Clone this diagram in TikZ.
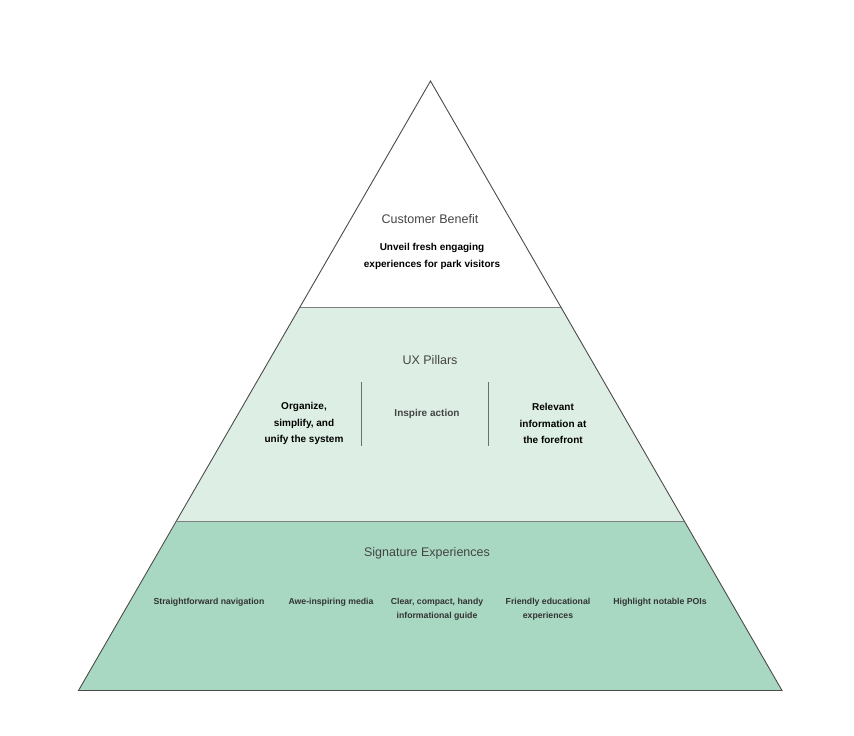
\documentclass[tikz,border=0pt]{standalone}
\usepackage{fontspec}
\setmainfont{Liberation Sans}
\definecolor{midg}{HTML}{DDEFE5}
\definecolor{botg}{HTML}{A8D8C2}
\definecolor{edge}{HTML}{4A4A4A}
\definecolor{ttl}{HTML}{444444}
\definecolor{itm}{HTML}{333333}
\begin{document}
\begin{tikzpicture}[x=1pt,y=-1pt,
  title/.style={font=\fontsize{12.5}{15}\selectfont, text=ttl, inner sep=0pt},
  pillar/.style={font=\fontsize{10}{16.5}\selectfont\bfseries, text=black, align=center, inner sep=0pt},
  item/.style={font=\fontsize{8.7}{14}\selectfont\bfseries, text=itm, align=center, inner sep=0pt},
  divider/.style={draw=edge!70, line width=0.8pt}]
\useasboundingbox (0,0) rectangle (854,736);
\coordinate (apex) at (430.5,81);
\coordinate (bl) at (78.5,690.5);
\coordinate (br) at (782,690.5);
\coordinate (l1) at (300,307);
\coordinate (r1) at (561,307);
\coordinate (l2) at (177,521);
\coordinate (r2) at (684,521);
% tiers
\fill[botg] (l2) -- (r2) -- (br) -- (bl) -- cycle;
\fill[midg] (l1) -- (r1) -- (r2) -- (l2) -- cycle;
\draw[divider] (l1) -- (r1);
\draw[divider] (l2) -- (r2);
\draw[edge, line width=0.9pt] (apex) -- (br) -- (bl) -- cycle;
% top tier
\node[title] (cb) at (430,219) {Customer Benefit};
\node[pillar] (cbt) at (432,256.5) {Unveil fresh engaging\\experiences for park visitors};
% middle tier
\node[title] (ux) at (430,360) {UX Pillars};
\coordinate (s1t) at (361,382);
\coordinate (s1b) at (361,446);
\coordinate (s2t) at (488.5,382);
\coordinate (s2b) at (488.5,446);
\draw[edge!80, line width=0.8pt] (s1t) -- (s1b);
\draw[edge!80, line width=0.8pt] (s2t) -- (s2b);
\node[pillar] (p1) at (304,423.5) {Organize,\\simplify, and\\unify the system};
\node[pillar, text=ttl] (p2) at (427,414) {Inspire action};
\node[pillar] (p3) at (553,423.5) {Relevant\\information at\\the forefront};
% bottom tier
\node[title] (se) at (427,553) {Signature Experiences};
\node[item] (i1) at (209,602) {Straightforward navigation};
\node[item] (i2) at (331,602) {Awe-inspiring media};
\node[item] (i3) at (437,609) {Clear, compact, handy\\informational guide};
\node[item] (i4) at (548,609) {Friendly educational\\experiences};
\node[item] (i5) at (660,602) {Highlight notable POIs};
\end{tikzpicture}
\end{document}
